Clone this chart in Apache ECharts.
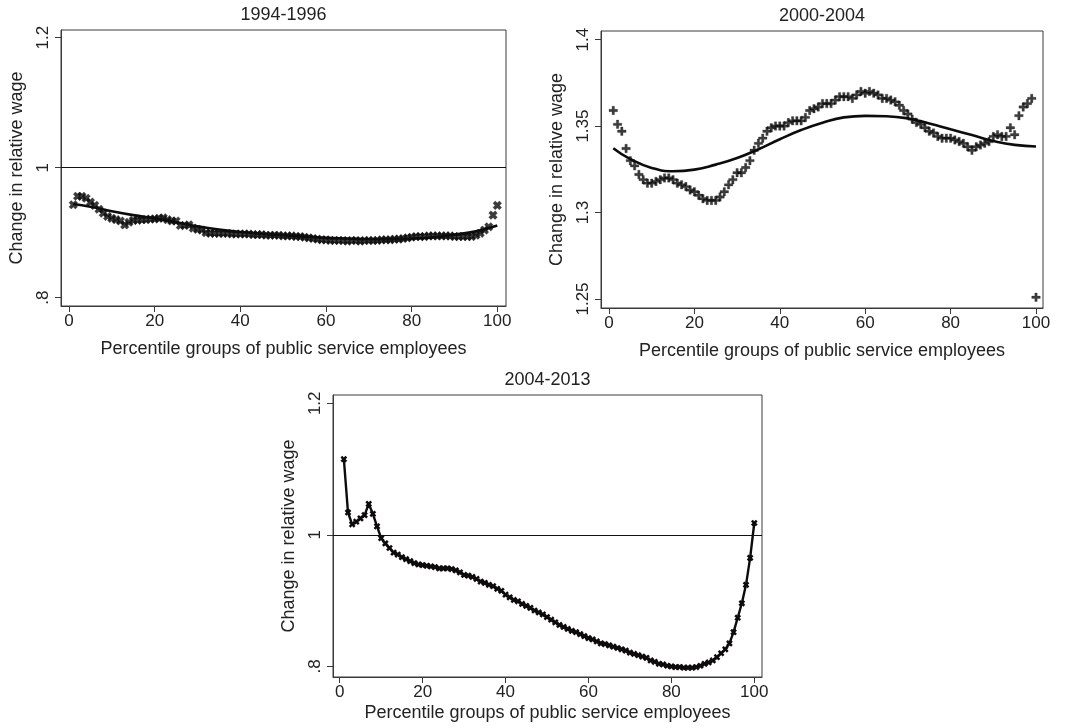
<!DOCTYPE html>
<html>
<head>
<meta charset="utf-8">
<title>Change in relative wage by percentile group</title>
<script src="https://cdn.jsdelivr.net/npm/echarts@6.0.0/dist/echarts.min.js"></script>
<style>
  html, body { margin: 0; padding: 0; background: #ffffff; }
  #chart { width: 1084px; height: 728px; }
</style>
</head>
<body>
<div id="chart"></div>
<script>
// Percentile groups of public service employees (x for every panel)
const percentile = [
  1, 2, 3, 4, 5, 6, 7, 8, 9, 10, 11, 12, 13, 14, 15, 16, 17, 18, 19, 20,
  21, 22, 23, 24, 25, 26, 27, 28, 29, 30, 31, 32, 33, 34, 35, 36, 37, 38, 39, 40,
  41, 42, 43, 44, 45, 46, 47, 48, 49, 50, 51, 52, 53, 54, 55, 56, 57, 58, 59, 60,
  61, 62, 63, 64, 65, 66, 67, 68, 69, 70, 71, 72, 73, 74, 75, 76, 77, 78, 79, 80,
  81, 82, 83, 84, 85, 86, 87, 88, 89, 90, 91, 92, 93, 94, 95, 96, 97, 98, 99, 100
];

// Percentiles at which the smoothed fits are listed
const fitPercentile = [1, 5, 10, 15, 20, 25, 30, 35, 40, 45, 50, 55, 60, 65, 70, 75, 80, 85, 90, 95, 100];

// 1994-1996: relative wage change per percentile and smoothed fit
const wage9496 = [
  0.943, 0.956, 0.956, 0.953, 0.947, 0.942, 0.936, 0.930, 0.925, 0.922,
  0.920, 0.918, 0.912, 0.916, 0.919, 0.919, 0.920, 0.920, 0.921, 0.921,
  0.922, 0.923, 0.920, 0.918, 0.918, 0.911, 0.911, 0.912, 0.907, 0.905,
  0.904, 0.900, 0.899, 0.899, 0.899, 0.899, 0.899, 0.898, 0.898, 0.898,
  0.898, 0.898, 0.897, 0.897, 0.897, 0.896, 0.896, 0.896, 0.896, 0.895,
  0.895, 0.895, 0.894, 0.894, 0.893, 0.892, 0.891, 0.890, 0.889, 0.889,
  0.888, 0.888, 0.888, 0.888, 0.887, 0.888, 0.888, 0.887, 0.888, 0.888,
  0.888, 0.888, 0.889, 0.889, 0.889, 0.890, 0.890, 0.891, 0.892, 0.893,
  0.894, 0.894, 0.894, 0.895, 0.895, 0.895, 0.895, 0.895, 0.895, 0.894,
  0.894, 0.894, 0.894, 0.894, 0.896, 0.899, 0.904, 0.909, 0.927, 0.942
];
const fit9496 = [
  0.944, 0.940, 0.933, 0.927, 0.922, 0.916, 0.910, 0.905, 0.901, 0.898,
  0.896, 0.894, 0.892, 0.891, 0.890, 0.890, 0.891, 0.893, 0.897, 0.902, 0.911
];

// 2000-2004
const wage0004 = [
  1.359, 1.351, 1.347, 1.337, 1.330, 1.327, 1.322, 1.319, 1.317, 1.317,
  1.318, 1.319, 1.320, 1.320, 1.319, 1.317, 1.316, 1.315, 1.313, 1.312,
  1.310, 1.308, 1.307, 1.307, 1.307, 1.309, 1.312, 1.316, 1.319, 1.323,
  1.323, 1.326, 1.330, 1.336, 1.340, 1.343, 1.347, 1.349, 1.350, 1.350,
  1.350, 1.352, 1.353, 1.353, 1.353, 1.355, 1.359, 1.360, 1.361, 1.363,
  1.363, 1.363, 1.365, 1.367, 1.367, 1.367, 1.366, 1.368, 1.370, 1.369,
  1.370, 1.369, 1.368, 1.366, 1.366, 1.365, 1.364, 1.362, 1.359, 1.357,
  1.354, 1.352, 1.351, 1.349, 1.347, 1.346, 1.344, 1.343, 1.343, 1.343,
  1.342, 1.341, 1.340, 1.338, 1.336, 1.338, 1.339, 1.340, 1.341, 1.344,
  1.345, 1.344, 1.344, 1.349, 1.345, 1.356, 1.361, 1.363, 1.366, 1.251
];
const fit0004 = [
  1.3372, 1.3309, 1.3258, 1.3239, 1.3248, 1.3277, 1.3315, 1.3366, 1.3424, 1.3477,
  1.3519, 1.3550, 1.3559, 1.3557, 1.3544, 1.3515, 1.3481, 1.3448, 1.3414, 1.3391, 1.3382
];

// 2004-2013
const wage0413 = [
  1.115, 1.034, 1.016, 1.020, 1.025, 1.030, 1.047, 1.032, 1.013, 0.995,
  0.987, 0.980, 0.973, 0.970, 0.966, 0.963, 0.960, 0.957, 0.955, 0.954,
  0.953, 0.952, 0.951, 0.949, 0.949, 0.949, 0.948, 0.946, 0.943, 0.939,
  0.938, 0.936, 0.933, 0.929, 0.927, 0.924, 0.922, 0.918, 0.915, 0.909,
  0.905, 0.901, 0.899, 0.895, 0.892, 0.889, 0.885, 0.882, 0.879, 0.875,
  0.871, 0.867, 0.863, 0.860, 0.857, 0.854, 0.852, 0.849, 0.846, 0.843,
  0.841, 0.838, 0.835, 0.834, 0.832, 0.830, 0.828, 0.826, 0.824, 0.821,
  0.819, 0.817, 0.815, 0.813, 0.809, 0.807, 0.804, 0.803, 0.801, 0.800,
  0.799, 0.799, 0.798, 0.798, 0.798, 0.799, 0.801, 0.804, 0.806, 0.809,
  0.814, 0.820, 0.826, 0.835, 0.852, 0.874, 0.896, 0.924, 0.965, 1.018
];

// Tick labels
const xTicks = [0, 20, 40, 60, 80, 100];
const yTicks9496 = [0.8, 1, 1.2];
const yTicks0004 = [1.25, 1.3, 1.35, 1.4];
const yTicks0413 = [0.8, 1, 1.2];

const panelTitles = ['1994-1996', '2000-2004', '2004-2013'];
const xTitle = 'Percentile groups of public service employees';
const yTitle = 'Change in relative wage';

const INK = '#0d0b0c';
const TEXT = '#222222';
const FONT = '"Liberation Sans", Arial, Helvetica, sans-serif';
// Plus signs; rotated 45 degrees they become an "x"
const PLUS = 'path://M3.6,0H6.4V3.6H10V6.4H6.4V10H3.6V6.4H0V3.6H3.6Z';
const PLUS_BOLD = 'path://M3.2,0H6.8V3.2H10V6.8H6.8V10H3.2V6.8H0V3.2H3.2Z';

const pairs = (xs, ys) => xs.map((x, i) => [x, ys[i]]);
// Stata-style number labels: ".8" rather than "0.8"
const stataNum = v => String(+v.toFixed(4)).replace(/^0\./, '.');

const panels = [
  { left: 61,  top: 30,  width: 445, height: 276, xMin: -1.87, xMax: 102.03, yMin: 0.7872, yMax: 1.2118, yTicks: yTicks9496, xNameGap: 34 },
  { left: 601, top: 31,  width: 442, height: 277, xMin: -1.875, xMax: 101.64, yMin: 1.2448, yMax: 1.40496, yTicks: yTicks0004, xNameGap: 34 },
  { left: 333, top: 395, width: 429, height: 282, xMin: -1.62, xMax: 101.86, yMin: 0.7839, yMax: 1.2126, yTicks: yTicks0413, xNameGap: 27 }
];

const grid = panels.map(p => ({
  left: p.left, top: p.top, width: p.width, height: p.height,
  show: true, borderColor: '#3a3a3a', borderWidth: 1, backgroundColor: '#ffffff',
  containLabel: false
}));

const xAxis = panels.map((p, i) => ({
  type: 'value', gridIndex: i, min: p.xMin, max: p.xMax,
  name: xTitle, nameLocation: 'middle', nameGap: p.xNameGap,
  nameTextStyle: { fontFamily: FONT, fontSize: 18, color: TEXT },
  axisLine: { show: true, onZero: false, lineStyle: { color: '#3a3a3a', width: 1 } },
  axisTick: { show: true, length: 6, customValues: xTicks, lineStyle: { color: '#3a3a3a' } },
  axisLabel: { customValues: xTicks, margin: 7, fontFamily: FONT, fontSize: 17, color: TEXT },
  splitLine: { show: false }
}));

const yAxis = panels.map((p, i) => ({
  type: 'value', gridIndex: i, min: p.yMin, max: p.yMax,
  name: yTitle, nameLocation: 'middle', nameGap: 35,
  nameTextStyle: { fontFamily: FONT, fontSize: 18, color: TEXT },
  axisLine: { show: true, onZero: false, lineStyle: { color: '#3a3a3a', width: 1 } },
  axisTick: { show: true, length: 6, customValues: p.yTicks, lineStyle: { color: '#3a3a3a' } },
  axisLabel: { customValues: p.yTicks, rotate: 90, margin: 9, fontFamily: FONT, fontSize: 17, color: TEXT,
               formatter: v => stataNum(v) },
  splitLine: { show: false }
}));

const refLine = {
  silent: true, symbol: 'none', label: { show: false },
  lineStyle: { color: '#111111', width: 1, type: 'solid' },
  data: [{ yAxis: 1 }]
};

const series = [
  // 1994-1996
  {
    type: 'scatter', xAxisIndex: 0, yAxisIndex: 0, data: pairs(percentile, wage9496),
    symbol: PLUS_BOLD, symbolRotate: 45, symbolSize: 9,
    itemStyle: { color: INK, borderColor: INK, borderWidth: 0.3 },
    markLine: refLine, z: 3
  },
  {
    type: 'line', xAxisIndex: 0, yAxisIndex: 0, data: pairs(fitPercentile, fit9496),
    smooth: true, showSymbol: false, lineStyle: { color: INK, width: 2.6 }, z: 4
  },
  // 2000-2004
  {
    type: 'scatter', xAxisIndex: 1, yAxisIndex: 1, data: pairs(percentile, wage0004),
    symbol: PLUS, symbolSize: 8.5,
    itemStyle: { color: INK, borderColor: INK, borderWidth: 0.3 }, z: 3
  },
  {
    type: 'line', xAxisIndex: 1, yAxisIndex: 1, data: pairs(fitPercentile, fit0004),
    smooth: true, showSymbol: false, lineStyle: { color: INK, width: 2.6 }, z: 4
  },
  // 2004-2013
  {
    type: 'line', xAxisIndex: 2, yAxisIndex: 2, data: pairs(percentile, wage0413),
    symbol: PLUS_BOLD, symbolRotate: 45, symbolSize: 7, showAllSymbol: true,
    lineStyle: { color: INK, width: 2.4 }, itemStyle: { color: INK },
    markLine: refLine, z: 3
  }
];

const titleGraphics = panels.map((p, i) => ({
  type: 'text',
  x: p.left + p.width / 2,
  y: p.top - 15,
  style: {
    text: panelTitles[i], align: 'center', verticalAlign: 'middle',
    fontFamily: FONT, fontSize: 18, fill: TEXT
  }
}));

const chart = echarts.init(document.getElementById('chart'), null, { renderer: 'canvas' });
chart.setOption({
  animation: false,
  backgroundColor: '#ffffff',
  grid, xAxis, yAxis, series,
  graphic: titleGraphics
});
</script>
</body>
</html>
